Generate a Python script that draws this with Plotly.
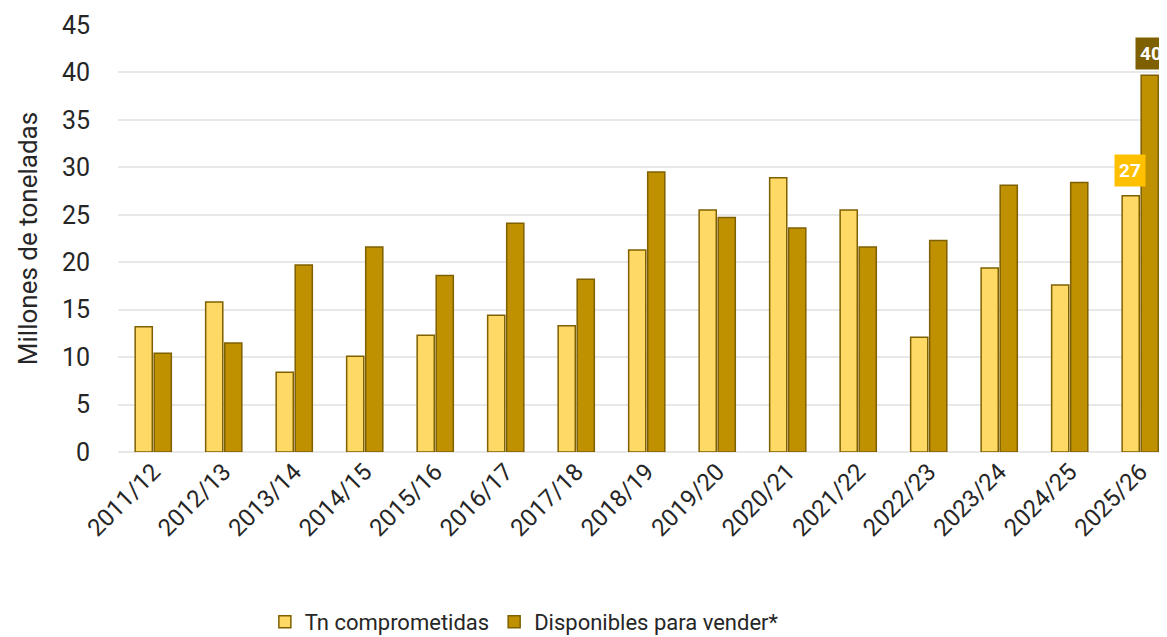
import plotly.graph_objects as go

campaigns = ["2011/12", "2012/13", "2013/14", "2014/15", "2015/16", "2016/17", "2017/18",
             "2018/19", "2019/20", "2020/21", "2021/22", "2022/23", "2023/24", "2024/25", "2025/26"]
comprometidas = [13.2, 15.8, 8.4, 10.1, 12.3, 14.4, 13.3, 21.3, 25.5, 28.9, 25.5, 12.1, 19.4, 17.6, 27.0]
disponibles = [10.4, 11.5, 19.7, 21.6, 18.6, 24.1, 18.2, 29.5, 24.7, 23.6, 21.6, 22.3, 28.1, 28.4, 39.7]
y_ticks = [0, 5, 10, 15, 20, 25, 30, 35, 40, 45]

FONT = "Roboto, Open Sans, sans-serif"
TXT = "#262626"

fig = go.Figure()
fig.add_trace(go.Bar(x=campaigns, y=comprometidas, name="Tn comprometidas",
                     marker=dict(color="#FFD966", line=dict(color="#7F6000", width=1.5))))
fig.add_trace(go.Bar(x=campaigns, y=disponibles, name="Disponibles para vender*",
                     marker=dict(color="#BF9000", line=dict(color="#7F6000", width=1.5))))

# data labels for last campaign
fig.add_annotation(x=campaigns[-1], y=comprometidas[-1], text="<b>27</b>", showarrow=False,
                   xshift=-10, yshift=25, bgcolor="#FFC000", font=dict(color="white", size=19, family=FONT),
                   borderpad=4)
fig.add_annotation(x=campaigns[-1], y=disponibles[-1], text="<b>40</b>", showarrow=False,
                   xshift=11, yshift=22, bgcolor="#7F6000", font=dict(color="white", size=19, family=FONT),
                   borderpad=4)

fig.update_layout(
    width=1159, height=629,
    margin=dict(l=110, r=0, t=17, b=185),
    plot_bgcolor="white", paper_bgcolor="white",
    barmode="group", bargap=0.46, bargroupgap=0.1,
    font=dict(family=FONT, color=TXT),
    legend=dict(orientation="h", x=0.14, xanchor="left", yref="container", y=0.024, yanchor="middle",
                font=dict(size=22, color=TXT), traceorder="normal"),
    xaxis=dict(tickangle=-45, tickfont=dict(size=24, color=TXT), showgrid=False, automargin=False,
               range=[-0.5, 14.38], showline=False, ticks=""),
    yaxis=dict(range=[0, 45], tickvals=y_ticks, tickfont=dict(size=25, color=TXT), automargin=False,
               gridcolor="#E8E8E8", gridwidth=1.5, zeroline=True, zerolinecolor="#E8E8E8",
               zerolinewidth=1.5, ticks="", ticklen=0, ticklabelstandoff=27,
               title=dict(text="Millones de toneladas", font=dict(size=26, color=TXT), standoff=16)),
)

fig.write_html("out.html")
